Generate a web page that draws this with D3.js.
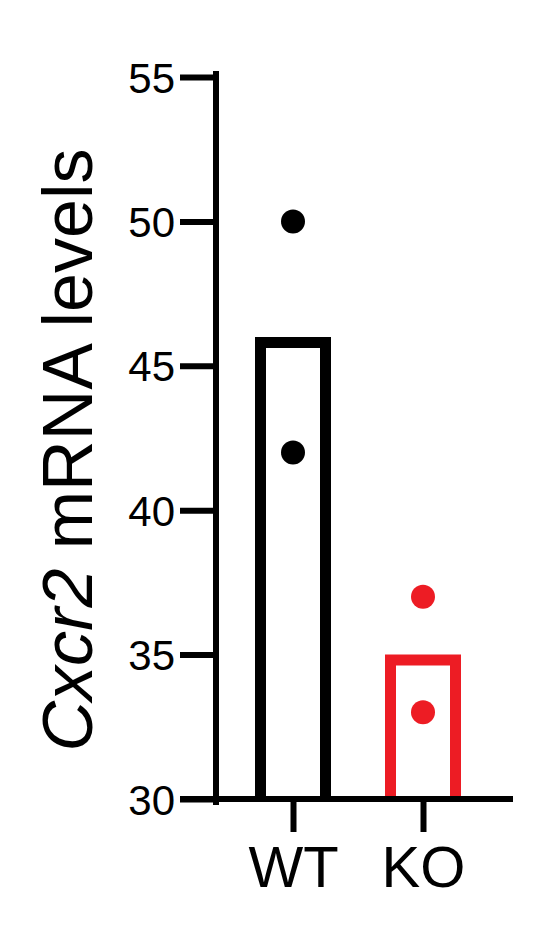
<!DOCTYPE html>
<html>
<head>
<meta charset="utf-8">
<script src="https://cdn.jsdelivr.net/npm/d3@7"></script>
<style>
  html, body { margin: 0; padding: 0; background: #fff; }
  svg { display: block; }
  text { font-family: "Liberation Sans", Arial, sans-serif; fill: #000; }
</style>
</head>
<body>
<svg id="chart" width="536" height="942"></svg>
<script>
const categories = ["WT", "KO"];
const barMeans = [46, 35];
const pointValues = [[50, 42], [37, 33]];
const yTicks = [30, 35, 40, 45, 50, 55];
const colors = ["#000000", "#ED1C24"];

const svg = d3.select("#chart");
const W = 536, H = 942;

const y = d3.scaleLinear().domain([30, 55]).range([799, 77]);
const x = d3.scalePoint().domain(categories).range([293, 423]);

const axisW = 6;
const barW = 76, barSW = 11;

// bars (open bottom, stroke inset)
categories.forEach((c, i) => {
  const cx = x(c);
  const x0 = cx - barW / 2 + barSW / 2;
  const x1 = cx + barW / 2 - barSW / 2;
  const yt = y(barMeans[i]) + barSW / 2;
  const yb = y(30);
  svg.append("path")
    .attr("d", `M${x0},${yb} L${x0},${yt} L${x1},${yt} L${x1},${yb}`)
    .attr("fill", "none")
    .attr("stroke", colors[i])
    .attr("stroke-width", barSW)
    .attr("stroke-linejoin", "miter");
});

// points
categories.forEach((c, i) => {
  svg.selectAll(null).data(pointValues[i]).enter().append("circle")
    .attr("cx", x(c))
    .attr("cy", d => y(d))
    .attr("r", 12)
    .attr("fill", colors[i]);
});

// y axis
const yAxisG = svg.append("g").attr("transform", "translate(216,0)")
  .call(d3.axisLeft(y).tickValues(yTicks).tickSize(33).tickPadding(8).tickFormat(d3.format("d")));
yAxisG.select(".domain").remove();
yAxisG.selectAll(".tick line").attr("stroke", "#000").attr("stroke-width", axisW).attr("stroke-linecap", "square");
yAxisG.selectAll(".tick text").attr("font-size", 42).attr("font-family", "Liberation Sans, Arial, sans-serif").attr("fill", "#000").attr("dy", "0.36em");
svg.append("line")
  .attr("x1", 216).attr("x2", 216)
  .attr("y1", y(55) - 6).attr("y2", y(30) + 6)
  .attr("stroke", "#000").attr("stroke-width", axisW);

// x axis
const xAxisG = svg.append("g").attr("transform", `translate(0,${y(30)})`)
  .call(d3.axisBottom(x).tickSize(33).tickPadding(14));
xAxisG.select(".domain").remove();
xAxisG.selectAll(".tick line").attr("stroke", "#000").attr("stroke-width", axisW);
xAxisG.selectAll(".tick text").attr("font-size", 58).attr("font-family", "Liberation Sans, Arial, sans-serif").attr("fill", "#000");
svg.append("line")
  .attr("x1", 183).attr("x2", 510)
  .attr("y1", y(30)).attr("y2", y(30))
  .attr("stroke", "#000").attr("stroke-width", axisW).attr("stroke-linecap", "square");

// y label
const yl = svg.append("text")
  .attr("transform", "translate(92,450) rotate(-90)")
  .attr("text-anchor", "middle")
  .attr("font-size", 70);
yl.append("tspan").attr("font-style", "italic").text("Cxcr2");
yl.append("tspan").text(" mRNA levels");
</script>
</body>
</html>
